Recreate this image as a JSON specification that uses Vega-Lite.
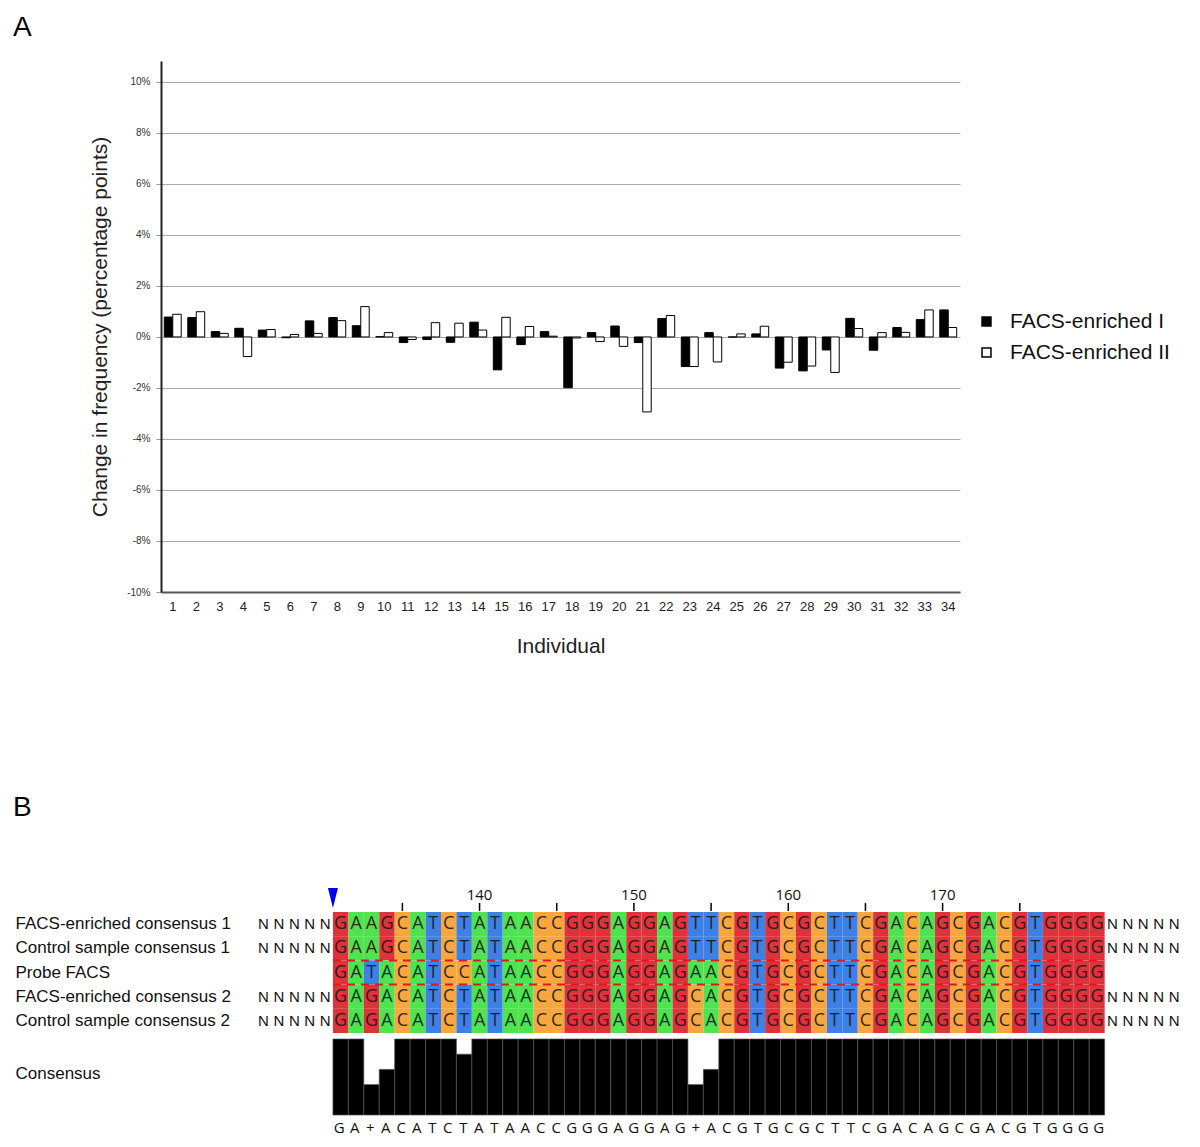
{
 "$schema": "https://vega.github.io/schema/vega-lite/v6.json",
 "padding": {"left": 13, "top": 14, "right": 5, "bottom": 5},
 "background": "white",
 "spacing": 138,
 "resolve": {"scale": {"fill": "independent", "color": "independent"}, "legend": {"fill": "independent", "color": "independent"}},
 "config": {"view": {"stroke": null}, "font": "Liberation Sans", "axis": {"labelFont": "Liberation Sans", "titleFont": "Liberation Sans"}, "legend": {"labelFont": "Liberation Sans"}, "title": {"font": "Liberation Sans"}},
 "datasets": {
  "bars": [
   {"i":1,"s":"FACS-enriched I","v":0.78},{"i":1,"s":"FACS-enriched II","v":0.89},
   {"i":2,"s":"FACS-enriched I","v":0.76},{"i":2,"s":"FACS-enriched II","v":0.99},
   {"i":3,"s":"FACS-enriched I","v":0.21},{"i":3,"s":"FACS-enriched II","v":0.14},
   {"i":4,"s":"FACS-enriched I","v":0.34},{"i":4,"s":"FACS-enriched II","v":-0.77},
   {"i":5,"s":"FACS-enriched I","v":0.27},{"i":5,"s":"FACS-enriched II","v":0.29},
   {"i":6,"s":"FACS-enriched I","v":-0.03},{"i":6,"s":"FACS-enriched II","v":0.10},
   {"i":7,"s":"FACS-enriched I","v":0.63},{"i":7,"s":"FACS-enriched II","v":0.14},
   {"i":8,"s":"FACS-enriched I","v":0.76},{"i":8,"s":"FACS-enriched II","v":0.64},
   {"i":9,"s":"FACS-enriched I","v":0.44},{"i":9,"s":"FACS-enriched II","v":1.19},
   {"i":10,"s":"FACS-enriched I","v":0.01},{"i":10,"s":"FACS-enriched II","v":0.17},
   {"i":11,"s":"FACS-enriched I","v":-0.22},{"i":11,"s":"FACS-enriched II","v":-0.10},
   {"i":12,"s":"FACS-enriched I","v":-0.10},{"i":12,"s":"FACS-enriched II","v":0.56},
   {"i":13,"s":"FACS-enriched I","v":-0.21},{"i":13,"s":"FACS-enriched II","v":0.54},
   {"i":14,"s":"FACS-enriched I","v":0.58},{"i":14,"s":"FACS-enriched II","v":0.27},
   {"i":15,"s":"FACS-enriched I","v":-1.29},{"i":15,"s":"FACS-enriched II","v":0.77},
   {"i":16,"s":"FACS-enriched I","v":-0.30},{"i":16,"s":"FACS-enriched II","v":0.41},
   {"i":17,"s":"FACS-enriched I","v":0.21},{"i":17,"s":"FACS-enriched II","v":0.03},
   {"i":18,"s":"FACS-enriched I","v":-1.99},{"i":18,"s":"FACS-enriched II","v":-0.04},
   {"i":19,"s":"FACS-enriched I","v":0.17},{"i":19,"s":"FACS-enriched II","v":-0.18},
   {"i":20,"s":"FACS-enriched I","v":0.43},{"i":20,"s":"FACS-enriched II","v":-0.37},
   {"i":21,"s":"FACS-enriched I","v":-0.22},{"i":21,"s":"FACS-enriched II","v":-2.94},
   {"i":22,"s":"FACS-enriched I","v":0.72},{"i":22,"s":"FACS-enriched II","v":0.84},
   {"i":23,"s":"FACS-enriched I","v":-1.16},{"i":23,"s":"FACS-enriched II","v":-1.16},
   {"i":24,"s":"FACS-enriched I","v":0.17},{"i":24,"s":"FACS-enriched II","v":-0.98},
   {"i":25,"s":"FACS-enriched I","v":0.0},{"i":25,"s":"FACS-enriched II","v":0.12},
   {"i":26,"s":"FACS-enriched I","v":0.12},{"i":26,"s":"FACS-enriched II","v":0.42},
   {"i":27,"s":"FACS-enriched I","v":-1.22},{"i":27,"s":"FACS-enriched II","v":-0.99},
   {"i":28,"s":"FACS-enriched I","v":-1.33},{"i":28,"s":"FACS-enriched II","v":-1.14},
   {"i":29,"s":"FACS-enriched I","v":-0.51},{"i":29,"s":"FACS-enriched II","v":-1.39},
   {"i":30,"s":"FACS-enriched I","v":0.73},{"i":30,"s":"FACS-enriched II","v":0.33},
   {"i":31,"s":"FACS-enriched I","v":-0.52},{"i":31,"s":"FACS-enriched II","v":0.17},
   {"i":32,"s":"FACS-enriched I","v":0.37},{"i":32,"s":"FACS-enriched II","v":0.18},
   {"i":33,"s":"FACS-enriched I","v":0.68},{"i":33,"s":"FACS-enriched II","v":1.06},
   {"i":34,"s":"FACS-enriched I","v":1.06},{"i":34,"s":"FACS-enriched II","v":0.37}
  ],
  "rows": [
   {"r":1,"name":"FACS-enriched consensus 1"},
   {"r":2,"name":"Control sample consensus 1"},
   {"r":3,"name":"Probe FACS"},
   {"r":4,"name":"FACS-enriched consensus 2"},
   {"r":5,"name":"Control sample consensus 2"}
  ],
  "seq": [
   {"r":1,"c":1,"b":"G"},{"r":1,"c":2,"b":"A"},{"r":1,"c":3,"b":"A"},{"r":1,"c":4,"b":"G"},{"r":1,"c":5,"b":"C"},{"r":1,"c":6,"b":"A"},{"r":1,"c":7,"b":"T"},{"r":1,"c":8,"b":"C"},{"r":1,"c":9,"b":"T"},{"r":1,"c":10,"b":"A"},
   {"r":1,"c":11,"b":"T"},{"r":1,"c":12,"b":"A"},{"r":1,"c":13,"b":"A"},{"r":1,"c":14,"b":"C"},{"r":1,"c":15,"b":"C"},{"r":1,"c":16,"b":"G"},{"r":1,"c":17,"b":"G"},{"r":1,"c":18,"b":"G"},{"r":1,"c":19,"b":"A"},{"r":1,"c":20,"b":"G"},
   {"r":1,"c":21,"b":"G"},{"r":1,"c":22,"b":"A"},{"r":1,"c":23,"b":"G"},{"r":1,"c":24,"b":"T"},{"r":1,"c":25,"b":"T"},{"r":1,"c":26,"b":"C"},{"r":1,"c":27,"b":"G"},{"r":1,"c":28,"b":"T"},{"r":1,"c":29,"b":"G"},{"r":1,"c":30,"b":"C"},
   {"r":1,"c":31,"b":"G"},{"r":1,"c":32,"b":"C"},{"r":1,"c":33,"b":"T"},{"r":1,"c":34,"b":"T"},{"r":1,"c":35,"b":"C"},{"r":1,"c":36,"b":"G"},{"r":1,"c":37,"b":"A"},{"r":1,"c":38,"b":"C"},{"r":1,"c":39,"b":"A"},{"r":1,"c":40,"b":"G"},
   {"r":1,"c":41,"b":"C"},{"r":1,"c":42,"b":"G"},{"r":1,"c":43,"b":"A"},{"r":1,"c":44,"b":"C"},{"r":1,"c":45,"b":"G"},{"r":1,"c":46,"b":"T"},{"r":1,"c":47,"b":"G"},{"r":1,"c":48,"b":"G"},{"r":1,"c":49,"b":"G"},{"r":1,"c":50,"b":"G"},
   {"r":2,"c":1,"b":"G"},{"r":2,"c":2,"b":"A"},{"r":2,"c":3,"b":"A"},{"r":2,"c":4,"b":"G"},{"r":2,"c":5,"b":"C"},{"r":2,"c":6,"b":"A"},{"r":2,"c":7,"b":"T"},{"r":2,"c":8,"b":"C"},{"r":2,"c":9,"b":"T"},{"r":2,"c":10,"b":"A"},
   {"r":2,"c":11,"b":"T"},{"r":2,"c":12,"b":"A"},{"r":2,"c":13,"b":"A"},{"r":2,"c":14,"b":"C"},{"r":2,"c":15,"b":"C"},{"r":2,"c":16,"b":"G"},{"r":2,"c":17,"b":"G"},{"r":2,"c":18,"b":"G"},{"r":2,"c":19,"b":"A"},{"r":2,"c":20,"b":"G"},
   {"r":2,"c":21,"b":"G"},{"r":2,"c":22,"b":"A"},{"r":2,"c":23,"b":"G"},{"r":2,"c":24,"b":"T"},{"r":2,"c":25,"b":"T"},{"r":2,"c":26,"b":"C"},{"r":2,"c":27,"b":"G"},{"r":2,"c":28,"b":"T"},{"r":2,"c":29,"b":"G"},{"r":2,"c":30,"b":"C"},
   {"r":2,"c":31,"b":"G"},{"r":2,"c":32,"b":"C"},{"r":2,"c":33,"b":"T"},{"r":2,"c":34,"b":"T"},{"r":2,"c":35,"b":"C"},{"r":2,"c":36,"b":"G"},{"r":2,"c":37,"b":"A"},{"r":2,"c":38,"b":"C"},{"r":2,"c":39,"b":"A"},{"r":2,"c":40,"b":"G"},
   {"r":2,"c":41,"b":"C"},{"r":2,"c":42,"b":"G"},{"r":2,"c":43,"b":"A"},{"r":2,"c":44,"b":"C"},{"r":2,"c":45,"b":"G"},{"r":2,"c":46,"b":"T"},{"r":2,"c":47,"b":"G"},{"r":2,"c":48,"b":"G"},{"r":2,"c":49,"b":"G"},{"r":2,"c":50,"b":"G"},
   {"r":3,"c":1,"b":"G"},{"r":3,"c":2,"b":"A"},{"r":3,"c":3,"b":"T"},{"r":3,"c":4,"b":"A"},{"r":3,"c":5,"b":"C"},{"r":3,"c":6,"b":"A"},{"r":3,"c":7,"b":"T"},{"r":3,"c":8,"b":"C"},{"r":3,"c":9,"b":"C"},{"r":3,"c":10,"b":"A"},
   {"r":3,"c":11,"b":"T"},{"r":3,"c":12,"b":"A"},{"r":3,"c":13,"b":"A"},{"r":3,"c":14,"b":"C"},{"r":3,"c":15,"b":"C"},{"r":3,"c":16,"b":"G"},{"r":3,"c":17,"b":"G"},{"r":3,"c":18,"b":"G"},{"r":3,"c":19,"b":"A"},{"r":3,"c":20,"b":"G"},
   {"r":3,"c":21,"b":"G"},{"r":3,"c":22,"b":"A"},{"r":3,"c":23,"b":"G"},{"r":3,"c":24,"b":"A"},{"r":3,"c":25,"b":"A"},{"r":3,"c":26,"b":"C"},{"r":3,"c":27,"b":"G"},{"r":3,"c":28,"b":"T"},{"r":3,"c":29,"b":"G"},{"r":3,"c":30,"b":"C"},
   {"r":3,"c":31,"b":"G"},{"r":3,"c":32,"b":"C"},{"r":3,"c":33,"b":"T"},{"r":3,"c":34,"b":"T"},{"r":3,"c":35,"b":"C"},{"r":3,"c":36,"b":"G"},{"r":3,"c":37,"b":"A"},{"r":3,"c":38,"b":"C"},{"r":3,"c":39,"b":"A"},{"r":3,"c":40,"b":"G"},
   {"r":3,"c":41,"b":"C"},{"r":3,"c":42,"b":"G"},{"r":3,"c":43,"b":"A"},{"r":3,"c":44,"b":"C"},{"r":3,"c":45,"b":"G"},{"r":3,"c":46,"b":"T"},{"r":3,"c":47,"b":"G"},{"r":3,"c":48,"b":"G"},{"r":3,"c":49,"b":"G"},{"r":3,"c":50,"b":"G"},
   {"r":4,"c":1,"b":"G"},{"r":4,"c":2,"b":"A"},{"r":4,"c":3,"b":"G"},{"r":4,"c":4,"b":"A"},{"r":4,"c":5,"b":"C"},{"r":4,"c":6,"b":"A"},{"r":4,"c":7,"b":"T"},{"r":4,"c":8,"b":"C"},{"r":4,"c":9,"b":"T"},{"r":4,"c":10,"b":"A"},
   {"r":4,"c":11,"b":"T"},{"r":4,"c":12,"b":"A"},{"r":4,"c":13,"b":"A"},{"r":4,"c":14,"b":"C"},{"r":4,"c":15,"b":"C"},{"r":4,"c":16,"b":"G"},{"r":4,"c":17,"b":"G"},{"r":4,"c":18,"b":"G"},{"r":4,"c":19,"b":"A"},{"r":4,"c":20,"b":"G"},
   {"r":4,"c":21,"b":"G"},{"r":4,"c":22,"b":"A"},{"r":4,"c":23,"b":"G"},{"r":4,"c":24,"b":"C"},{"r":4,"c":25,"b":"A"},{"r":4,"c":26,"b":"C"},{"r":4,"c":27,"b":"G"},{"r":4,"c":28,"b":"T"},{"r":4,"c":29,"b":"G"},{"r":4,"c":30,"b":"C"},
   {"r":4,"c":31,"b":"G"},{"r":4,"c":32,"b":"C"},{"r":4,"c":33,"b":"T"},{"r":4,"c":34,"b":"T"},{"r":4,"c":35,"b":"C"},{"r":4,"c":36,"b":"G"},{"r":4,"c":37,"b":"A"},{"r":4,"c":38,"b":"C"},{"r":4,"c":39,"b":"A"},{"r":4,"c":40,"b":"G"},
   {"r":4,"c":41,"b":"C"},{"r":4,"c":42,"b":"G"},{"r":4,"c":43,"b":"A"},{"r":4,"c":44,"b":"C"},{"r":4,"c":45,"b":"G"},{"r":4,"c":46,"b":"T"},{"r":4,"c":47,"b":"G"},{"r":4,"c":48,"b":"G"},{"r":4,"c":49,"b":"G"},{"r":4,"c":50,"b":"G"},
   {"r":5,"c":1,"b":"G"},{"r":5,"c":2,"b":"A"},{"r":5,"c":3,"b":"G"},{"r":5,"c":4,"b":"A"},{"r":5,"c":5,"b":"C"},{"r":5,"c":6,"b":"A"},{"r":5,"c":7,"b":"T"},{"r":5,"c":8,"b":"C"},{"r":5,"c":9,"b":"T"},{"r":5,"c":10,"b":"A"},
   {"r":5,"c":11,"b":"T"},{"r":5,"c":12,"b":"A"},{"r":5,"c":13,"b":"A"},{"r":5,"c":14,"b":"C"},{"r":5,"c":15,"b":"C"},{"r":5,"c":16,"b":"G"},{"r":5,"c":17,"b":"G"},{"r":5,"c":18,"b":"G"},{"r":5,"c":19,"b":"A"},{"r":5,"c":20,"b":"G"},
   {"r":5,"c":21,"b":"G"},{"r":5,"c":22,"b":"A"},{"r":5,"c":23,"b":"G"},{"r":5,"c":24,"b":"C"},{"r":5,"c":25,"b":"A"},{"r":5,"c":26,"b":"C"},{"r":5,"c":27,"b":"G"},{"r":5,"c":28,"b":"T"},{"r":5,"c":29,"b":"G"},{"r":5,"c":30,"b":"C"},
   {"r":5,"c":31,"b":"G"},{"r":5,"c":32,"b":"C"},{"r":5,"c":33,"b":"T"},{"r":5,"c":34,"b":"T"},{"r":5,"c":35,"b":"C"},{"r":5,"c":36,"b":"G"},{"r":5,"c":37,"b":"A"},{"r":5,"c":38,"b":"C"},{"r":5,"c":39,"b":"A"},{"r":5,"c":40,"b":"G"},
   {"r":5,"c":41,"b":"C"},{"r":5,"c":42,"b":"G"},{"r":5,"c":43,"b":"A"},{"r":5,"c":44,"b":"C"},{"r":5,"c":45,"b":"G"},{"r":5,"c":46,"b":"T"},{"r":5,"c":47,"b":"G"},{"r":5,"c":48,"b":"G"},{"r":5,"c":49,"b":"G"},{"r":5,"c":50,"b":"G"},
   {"r":1,"c":-4,"b":"N"},{"r":1,"c":-3,"b":"N"},{"r":1,"c":-2,"b":"N"},{"r":1,"c":-1,"b":"N"},{"r":1,"c":0,"b":"N"},
   {"r":1,"c":51,"b":"N"},{"r":1,"c":52,"b":"N"},{"r":1,"c":53,"b":"N"},{"r":1,"c":54,"b":"N"},{"r":1,"c":55,"b":"N"},
   {"r":2,"c":-4,"b":"N"},{"r":2,"c":-3,"b":"N"},{"r":2,"c":-2,"b":"N"},{"r":2,"c":-1,"b":"N"},{"r":2,"c":0,"b":"N"},
   {"r":2,"c":51,"b":"N"},{"r":2,"c":52,"b":"N"},{"r":2,"c":53,"b":"N"},{"r":2,"c":54,"b":"N"},{"r":2,"c":55,"b":"N"},
   {"r":4,"c":-4,"b":"N"},{"r":4,"c":-3,"b":"N"},{"r":4,"c":-2,"b":"N"},{"r":4,"c":-1,"b":"N"},{"r":4,"c":0,"b":"N"},
   {"r":4,"c":51,"b":"N"},{"r":4,"c":52,"b":"N"},{"r":4,"c":53,"b":"N"},{"r":4,"c":54,"b":"N"},{"r":4,"c":55,"b":"N"},
   {"r":5,"c":-4,"b":"N"},{"r":5,"c":-3,"b":"N"},{"r":5,"c":-2,"b":"N"},{"r":5,"c":-1,"b":"N"},{"r":5,"c":0,"b":"N"},
   {"r":5,"c":51,"b":"N"},{"r":5,"c":52,"b":"N"},{"r":5,"c":53,"b":"N"},{"r":5,"c":54,"b":"N"},{"r":5,"c":55,"b":"N"}
  ],
  "cons": [
   {"c":1,"b":"G","f":1},{"c":2,"b":"A","f":1},{"c":3,"b":"+","f":0.4},{"c":4,"b":"A","f":0.6},{"c":5,"b":"C","f":1},{"c":6,"b":"A","f":1},{"c":7,"b":"T","f":1},{"c":8,"b":"C","f":1},{"c":9,"b":"T","f":0.8},{"c":10,"b":"A","f":1},
   {"c":11,"b":"T","f":1},{"c":12,"b":"A","f":1},{"c":13,"b":"A","f":1},{"c":14,"b":"C","f":1},{"c":15,"b":"C","f":1},{"c":16,"b":"G","f":1},{"c":17,"b":"G","f":1},{"c":18,"b":"G","f":1},{"c":19,"b":"A","f":1},{"c":20,"b":"G","f":1},
   {"c":21,"b":"G","f":1},{"c":22,"b":"A","f":1},{"c":23,"b":"G","f":1},{"c":24,"b":"+","f":0.4},{"c":25,"b":"A","f":0.6},{"c":26,"b":"C","f":1},{"c":27,"b":"G","f":1},{"c":28,"b":"T","f":1},{"c":29,"b":"G","f":1},{"c":30,"b":"C","f":1},
   {"c":31,"b":"G","f":1},{"c":32,"b":"C","f":1},{"c":33,"b":"T","f":1},{"c":34,"b":"T","f":1},{"c":35,"b":"C","f":1},{"c":36,"b":"G","f":1},{"c":37,"b":"A","f":1},{"c":38,"b":"C","f":1},{"c":39,"b":"A","f":1},{"c":40,"b":"G","f":1},
   {"c":41,"b":"C","f":1},{"c":42,"b":"G","f":1},{"c":43,"b":"A","f":1},{"c":44,"b":"C","f":1},{"c":45,"b":"G","f":1},{"c":46,"b":"T","f":1},{"c":47,"b":"G","f":1},{"c":48,"b":"G","f":1},{"c":49,"b":"G","f":1},{"c":50,"b":"G","f":1}
  ],
  "ruler": [
   {"c":5,"label":""},{"c":10,"label":"140"},{"c":15,"label":""},{"c":20,"label":"150"},{"c":25,"label":""},{"c":30,"label":"160"},{"c":35,"label":""},{"c":40,"label":"170"},{"c":45,"label":""}
  ],
  "marker": [{"c":1}],
  "dash": [{"name":"Probe FACS","c1":1,"c2":50},{"name":"FACS-enriched consensus 2","c1":1,"c2":50}]
 },
 "vconcat": [
  {
   "title": {"text": "A", "anchor": "start", "frame": "group", "fontSize": 28, "fontWeight": "normal", "dx": -148, "offset": 19, "color": "black"},
   "width": 799,
   "height": 531,
   "data": {"name": "bars"},
   "mark": {"type": "bar", "stroke": "black", "strokeWidth": 1},
   "encoding": {
    "x": {"field": "i", "type": "ordinal", "scale": {"paddingInner": 0.28, "paddingOuter": 0.14},
     "axis": {"title": "Individual", "labelAngle": 0, "ticks": false, "labelPadding": 8, "labelFontSize": 13, "labelColor": "#222", "domainColor": "#555", "domainWidth": 2, "titleFontSize": 21, "titleFontWeight": "normal", "titlePadding": 22, "titleColor": "#222"}},
    "xOffset": {"field": "s", "type": "nominal", "sort": ["FACS-enriched I", "FACS-enriched II"]},
    "y": {"field": "v", "type": "quantitative", "scale": {"domain": [-10, 10.82], "nice": false, "zero": false},
     "axis": {"values": [-10, -8, -6, -4, -2, 0, 2, 4, 6, 8, 10], "labelExpr": "datum.value + '%'", "labelFontSize": 10, "labelColor": "#333", "tickSize": 5, "labelPadding": 6, "tickColor": "#999", "domainColor": "#222", "domainWidth": 2, "grid": true, "gridColor": "#aaa", "title": "Change in frequency (percentage points)", "titleFontSize": 21, "titleFontWeight": "normal", "titlePadding": 16, "titleColor": "#222"}},
    "fill": {"field": "s", "type": "nominal", "scale": {"domain": ["FACS-enriched I", "FACS-enriched II"], "range": ["black", "white"]},
     "legend": {"title": null, "orient": "none", "legendX": 815, "legendY": 250, "symbolType": "square", "symbolSize": 80, "symbolStrokeColor": "black", "symbolStrokeWidth": 1.5, "labelFontSize": 21, "labelColor": "#111", "labelOffset": 13, "rowPadding": 9, "labelLimit": 400}}
   }
  },
  {
   "spacing": 0,
   "resolve": {"scale": {"fill": "independent"}},
   "vconcat": [
    {
     "title": {"text": "B", "anchor": "start", "frame": "group", "fontSize": 28, "fontWeight": "normal", "dx": -148, "offset": 59, "color": "black"},
     "width": 1023,
     "height": 30,
     "layer": [
      {
       "data": {"name": "ruler"},
       "mark": {"type": "rule", "color": "black", "strokeWidth": 1.5},
       "encoding": {
        "x": {"field": "c", "type": "ordinal", "scale": {"domain": [-10,-9,-8,-7,-6,-5,-4,-3,-2,-1,0,1,2,3,4,5,6,7,8,9,10,11,12,13,14,15,16,17,18,19,20,21,22,23,24,25,26,27,28,29,30,31,32,33,34,35,36,37,38,39,40,41,42,43,44,45,46,47,48,49,50,51,52,53,54,55], "paddingInner": 0, "paddingOuter": 0.14}, "axis": null},
        "y": {"datum": 0, "type": "quantitative", "scale": {"domain": [0, 1]}, "axis": null},
        "y2": {"datum": 0.27}
       }
      },
      {
       "data": {"name": "ruler"},
       "mark": {"type": "text", "fontSize": 15, "font": "Open Sans", "color": "#111", "baseline": "middle"},
       "encoding": {
        "x": {"field": "c", "type": "ordinal"},
        "y": {"datum": 0.55, "type": "quantitative"},
        "text": {"field": "label"}
       }
      },
      {
       "data": {"name": "marker"},
       "mark": {"type": "point", "shape": "M-0.5,-1L0.5,-1L0,1Z", "filled": true, "color": "#0000ee", "size": 400, "opacity": 1},
       "encoding": {
        "x": {"field": "c", "type": "ordinal", "bandPosition": 0},
        "y": {"datum": 0.43, "type": "quantitative"}
       }
      }
     ]
    },
    {
     "width": 1023,
     "height": 121,
     "data": {"name": "seq"},
     "transform": [{"lookup": "r", "from": {"data": {"name": "rows"}, "key": "r", "fields": ["name"]}}],
     "encoding": {
      "x": {"field": "c", "type": "ordinal", "scale": {"domain": [-10,-9,-8,-7,-6,-5,-4,-3,-2,-1,0,1,2,3,4,5,6,7,8,9,10,11,12,13,14,15,16,17,18,19,20,21,22,23,24,25,26,27,28,29,30,31,32,33,34,35,36,37,38,39,40,41,42,43,44,45,46,47,48,49,50,51,52,53,54,55], "paddingInner": 0, "paddingOuter": 0.14}, "axis": null},
      "y": {"field": "name", "type": "nominal", "sort": ["FACS-enriched consensus 1", "Control sample consensus 1", "Probe FACS", "FACS-enriched consensus 2", "Control sample consensus 2"], "scale": {"paddingInner": 0, "paddingOuter": 0},
       "axis": {"title": null, "ticks": false, "tickSize": 0, "domain": false, "labelAlign": "left", "labelPadding": 146, "labelFontSize": 17, "labelColor": "#111", "labelFont": "Liberation Sans", "labelLimit": 400}}
     },
     "layer": [
      {
       "transform": [{"filter": "datum.b != 'N'"}],
       "mark": {"type": "rect"},
       "encoding": {
        "fill": {"field": "b", "type": "nominal", "scale": {"domain": ["A", "C", "G", "T"], "range": ["#4fe34f", "#f9a63e", "#e0323b", "#3d80e6"]}, "legend": null}
       }
      },
      {
       "transform": [{"filter": "datum.b != 'N'"}],
       "mark": {"type": "text", "fontSize": 18, "font": "Open Sans", "color": "#1a1a1a", "opacity": 0.9, "baseline": "middle"},
       "encoding": {"text": {"field": "b"}}
      },
      {
       "transform": [{"filter": "datum.b == 'N'"}],
       "mark": {"type": "text", "fontSize": 15, "font": "Liberation Sans", "color": "#111", "baseline": "middle"},
       "encoding": {"text": {"field": "b"}}
      },
      {
       "data": {"name": "dash"},
       "transform": [],
       "mark": {"type": "rule", "color": "#e8141c", "strokeWidth": 2, "strokeDash": [8, 6]},
       "encoding": {
        "x": {"field": "c1", "type": "ordinal", "bandPosition": 0},
        "x2": {"field": "c2"},
        "y": {"field": "name", "type": "nominal", "bandPosition": 0}
       }
      }
     ]
    },
    {
     "width": 1023,
     "height": 82,
     "data": {"name": "cons"},
     "mark": {"type": "bar", "color": "black", "stroke": "#555", "strokeWidth": 0.7},
     "encoding": {
      "x": {"field": "c", "type": "ordinal", "scale": {"domain": [-10,-9,-8,-7,-6,-5,-4,-3,-2,-1,0,1,2,3,4,5,6,7,8,9,10,11,12,13,14,15,16,17,18,19,20,21,22,23,24,25,26,27,28,29,30,31,32,33,34,35,36,37,38,39,40,41,42,43,44,45,46,47,48,49,50,51,52,53,54,55], "paddingInner": 0, "paddingOuter": 0.14}, "axis": null},
      "y": {"field": "f", "type": "quantitative", "scale": {"domain": [0, 1.079], "nice": false},
       "axis": {"title": null, "values": [0.55], "labelExpr": "'Consensus'", "ticks": false, "tickSize": 0, "domain": false, "grid": false, "labelAlign": "left", "labelPadding": 146, "labelFontSize": 17, "labelColor": "#111", "labelFont": "Liberation Sans", "labelLimit": 400}}
     }
    },
    {
     "width": 1023,
     "height": 24,
     "data": {"name": "cons"},
     "mark": {"type": "text", "fontSize": 15, "font": "Open Sans", "color": "#111", "baseline": "middle"},
     "encoding": {
      "x": {"field": "c", "type": "ordinal", "scale": {"domain": [-10,-9,-8,-7,-6,-5,-4,-3,-2,-1,0,1,2,3,4,5,6,7,8,9,10,11,12,13,14,15,16,17,18,19,20,21,22,23,24,25,26,27,28,29,30,31,32,33,34,35,36,37,38,39,40,41,42,43,44,45,46,47,48,49,50,51,52,53,54,55], "paddingInner": 0, "paddingOuter": 0.14}, "axis": null},
      "text": {"field": "b"}
     }
    }
   ]
  }
 ]
}
